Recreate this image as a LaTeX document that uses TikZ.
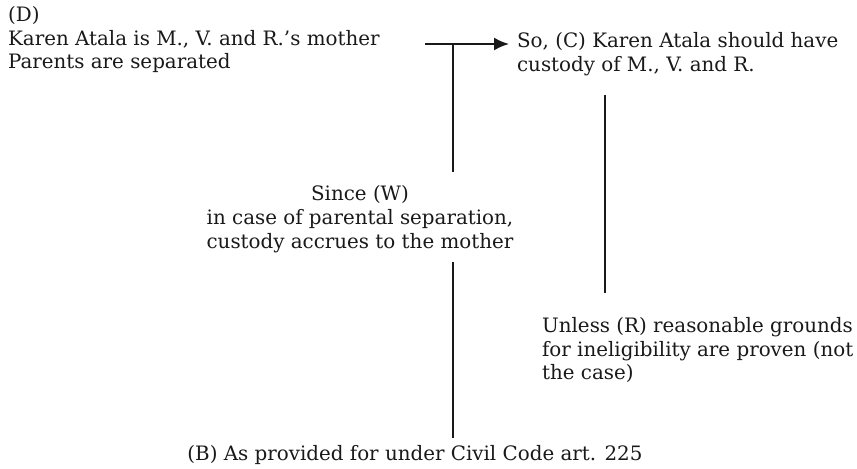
\documentclass[tikz,border=0pt]{standalone}
\usepackage{fontspec}
\setmainfont{DejaVu Serif}
\usetikzlibrary{arrows.meta}
\tikzset{
  txt/.style = {inner sep=1pt, font=\fontsize{11.3}{13.6}\selectfont, text=black!90},
  link/.style = {line width=1.1pt, black!90}
}

\begin{document}
\begin{tikzpicture}
\useasboundingbox (0,0) rectangle (17.14,-9.38);
\node[txt, align=left, anchor=north west] (data) at (0.12,-0.08) {(D)\\
  Karen Atala is M., V. and R.'s mother\\
  Parents are separated};
\node[txt, align=left, anchor=north west] (claim) at (10.3,-0.6) {So, (C) Karen Atala should have\\
  custody of M., V. and R.};
\node[txt, align=center] (warrant) at (7.2,-4.38) {Since (W)\\
  in case of parental separation,\\
  custody accrues to the mother};
\node[txt, align=left, anchor=north west] (rebut) at (10.8,-6.3) {Unless (R) reasonable grounds\\
  for ineligibility are proven (not\\
  the case)};
\node[txt] (backing) at (8.3,-9.1) {(B) As provided for under Civil Code art. 225};
\coordinate (a0) at (8.5,-0.88);
\coordinate (j) at (9.06,-0.88);
\coordinate (wtop) at (9.06,-3.44);
\coordinate (wbot) at (9.06,-5.24);
\coordinate (ctop) at (12.1,-1.9);
\draw[link, -{Latex[length=3mm,width=2.6mm]}, shorten >=0.12cm] (a0) -- (a0 -| claim.west);
\draw[link] (j) -- (wtop);
\draw[link, shorten >=0.1cm] (wbot) -- (wbot |- backing.north);
\draw[link, shorten >=0.45cm] (ctop) -- (ctop |- rebut.north);
\end{tikzpicture}
\end{document}
